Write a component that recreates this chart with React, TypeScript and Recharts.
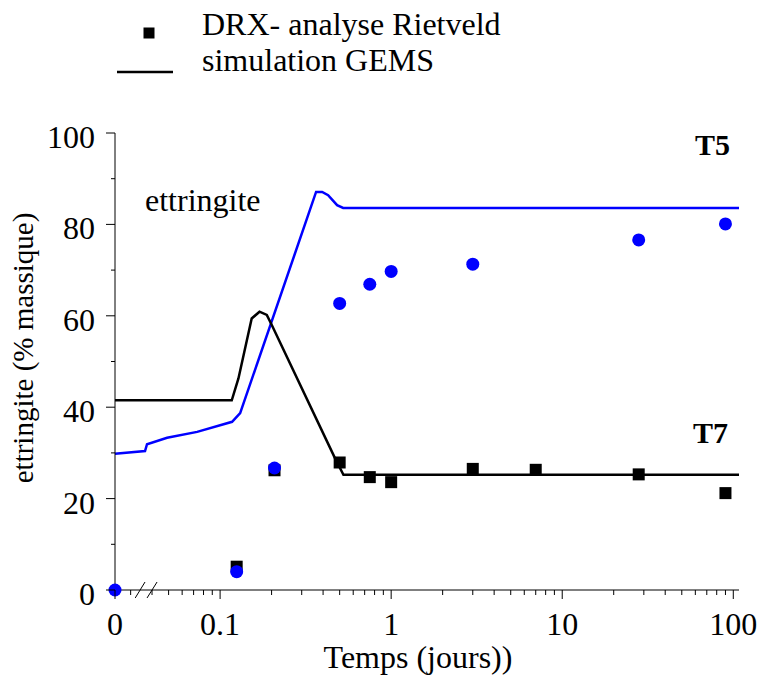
import React from 'react'
import { ComposedChart, Line, Scatter, XAxis, YAxis, Legend, ReferenceLine, Customized } from 'recharts';

// time axis is logarithmic, "0" sits left of 0.1 behind a break
const ZERO = 0.0243;
const X_END = 108;

// DRX - Rietveld analysis (days, % mass)
const DRX_T7_DAYS = [0.125, 0.208, 0.5, 0.75, 1, 3, 7, 28, 90];
const DRX_T7 = [5.1, 26.2, 27.9, 24.7, 23.6, 26.5, 26.3, 25.3, 21.2];
const DRX_T5_DAYS = [0, 0.125, 0.208, 0.5, 0.75, 1, 3, 28, 90];
const DRX_T5 = [0, 4.0, 26.7, 62.7, 66.9, 69.7, 71.3, 76.6, 80.1];

// GEMS simulation curves
const GEMS_T5_DAYS = [0, 0.0364, 0.0374, 0.049, 0.0734, 0.1175, 0.131, 0.364, 0.395, 0.428, 0.483, 0.524, X_END];
const GEMS_T5 = [29.8, 30.4, 31.9, 33.3, 34.6, 36.8, 38.7, 87.1, 87.1, 86.4, 84.2, 83.6, 83.6];
const GEMS_T7_DAYS = [0, 0.117, 0.128, 0.153, 0.170, 0.1875, 0.2005, 0.470, 0.526, X_END];
const GEMS_T7 = [41.5, 41.5, 46.3, 59.4, 60.9, 60.2, 58.0, 28.8, 25.2, 25.2];

const X_MAJOR = [ZERO, 0.1, 1, 10, 100];
const X_LABELS = ['0', '0.1', '1', '10', '100'];
const X_MINOR = [0.01, 0.1, 1, 10].flatMap(d => [2, 3, 4, 5, 6, 7, 8, 9].map(k => +(d * k).toPrecision(3))).filter(v => v > 0.025 && v < 100);
const Y_TICKS = [0, 10, 20, 30, 40, 50, 60, 70, 80, 90, 100];

// break marks on the time axis "//"
const BREAKS = [[0.0319, 0.0364], [0.0374, 0.0428]];

const FONT = '"Liberation Serif", "Times New Roman", serif';
const FS = 32;

const toX = (d: number) => (d === 0 ? ZERO : d);
const drxT7 = DRX_T7_DAYS.map((d, i) => ({ x: toX(d), y: DRX_T7[i] }));
const drxT5 = DRX_T5_DAYS.map((d, i) => ({ x: toX(d), y: DRX_T5[i] }));
const gemsT5 = GEMS_T5_DAYS.map((d, i) => ({ x: toX(d), y: GEMS_T5[i] }));
const gemsT7 = GEMS_T7_DAYS.map((d, i) => ({ x: toX(d), y: GEMS_T7[i] }));

const XTick = (props: any) => {
  const { x, y, payload } = props;
  const idx = X_MAJOR.indexOf(payload.value);
  const major = idx >= 0;
  return (
    <g>
      <line x1={x} x2={x} y1={y} y2={y + (major ? 9 : 5)} stroke="#000" strokeWidth={1} />
      {major && (
        <text x={x} y={y + 45} textAnchor="middle" fontFamily={FONT} fontSize={FS} fill="#000">
          {X_LABELS[idx]}
        </text>
      )}
    </g>
  );
};

const YTick = (props: any) => {
  const { x, y, payload } = props;
  const major = payload.value % 20 === 0;
  return (
    <g>
      <line x1={x} x2={x - (major ? 9 : 4)} y1={y} y2={y} stroke="#000" strokeWidth={1} />
      {major && (
        <text x={x - 20} y={y + 15} textAnchor="end" fontFamily={FONT} fontSize={FS} fill="#000">
          {payload.value}
        </text>
      )}
    </g>
  );
};

const Square = (props: any) => <rect x={props.cx - 6} y={props.cy - 6} width={12} height={12} fill="#000" />;
const Dot = (props: any) => <circle cx={props.cx} cy={props.cy} r={6.5} fill="#0000ff" />;

const LegendBox = () => (
  <svg width={440} height={92} style={{ display: 'block' }}>
    <rect x={43.5} y={27.5} width={11} height={11} fill="#000" />
    <line x1={17} x2={73} y1={72} y2={72} stroke="#000" strokeWidth={2.5} />
    <text x={102} y={35} fontFamily={FONT} fontSize={FS} fill="#000">DRX- analyse Rietveld</text>
    <text x={102} y={71} fontFamily={FONT} fontSize={FS} fill="#000">simulation GEMS</text>
  </svg>
);

const Annotations = () => (
  <g fontFamily={FONT} fill="#000">
    <text x={137} y={203} fontSize={FS}>ettringite</text>
    <text x={687} y={147} fontSize={30} fontWeight="bold">T5</text>
    <text x={685} y={435} fontSize={30} fontWeight="bold">T7</text>
    <text x={410} y={660} fontSize={FS} textAnchor="middle">Temps (jours))</text>
    <text x={25} y={340} fontSize={29} textAnchor="middle" transform="rotate(-90 25 340)">ettringite (% massique)</text>
  </g>
);

const App: React.FC = () => {
  return (
    <ComposedChart width={757} height={674} margin={{ top: 125, right: 26, left: 0, bottom: 0 }}>
      <XAxis
        dataKey="x"
        type="number"
        scale="log"
        domain={[ZERO, X_END]}
        ticks={[...X_MAJOR, ...X_MINOR].sort((a, b) => a - b)}
        interval={0}
        tickSize={0}
        tickMargin={0}
        tickLine={false}
        tick={<XTick />}
        height={92}
        axisLine={{ stroke: '#000' }}
      />
      <YAxis
        type="number"
        domain={[0, 100]}
        ticks={Y_TICKS}
        interval={0}
        tickSize={0}
        tickMargin={0}
        tickLine={false}
        tick={<YTick />}
        width={107}
        axisLine={{ stroke: '#000' }}
      />
      {BREAKS.map((b, i) => (
        <ReferenceLine
          key={i}
          segment={[{ x: b[0], y: -1.75 }, { x: b[1], y: 1.75 }]}
          stroke="#000"
          strokeWidth={1}
          ifOverflow="visible"
        />
      ))}
      <Line data={gemsT5} dataKey="y" type="linear" stroke="#0000ff" strokeWidth={2.5} dot={false} isAnimationActive={false} name="GEMS T5" />
      <Line data={gemsT7} dataKey="y" type="linear" stroke="#000" strokeWidth={2.5} dot={false} isAnimationActive={false} name="GEMS T7" />
      <Scatter data={drxT7} dataKey="y" shape={<Square />} isAnimationActive={false} name="DRX T7" />
      <Scatter data={drxT5} dataKey="y" shape={<Dot />} isAnimationActive={false} name="DRX T5" />
      <Legend
        layout="vertical"
        align="center"
        verticalAlign="middle"
        content={<LegendBox />}
        wrapperStyle={{ position: 'absolute', left: 92, top: -8, width: 440, height: 92 }}
      />
      <Customized component={<Annotations />} />
    </ComposedChart>
  );
};

export default App;
